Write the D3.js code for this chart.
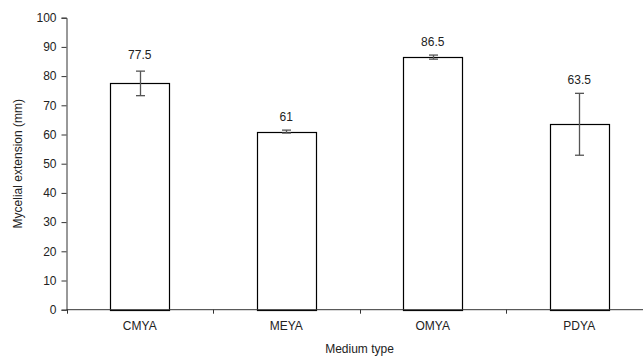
<!DOCTYPE html>
<html>
<head>
<meta charset="utf-8">
<script src="https://cdn.jsdelivr.net/npm/d3@7"></script>
<style>
  body { margin: 0; background: #fff; }
  text { font-family: "Liberation Sans", Arial, sans-serif; fill: #222; }
</style>
</head>
<body>
<div id="chart"></div>
<script>
    // data
    var categories = ["CMYA", "MEYA", "OMYA", "PDYA"];
    var means = [77.5, 61, 86.5, 63.5];
    var errors = [4.2, 0.5, 0.7, 10.6];
    var labels = ["77.5", "61", "86.5", "63.5"];
    var yTicks = [0, 10, 20, 30, 40, 50, 60, 70, 80, 90, 100];

    var width = 643, height = 358;
    var mLeft = 66.5, mTop = 17.7, mBottom = 309.7;
    var step = 146.5;

    var svg = d3.select("#chart").append("svg")
        .attr("width", width)
        .attr("height", height);

    var x = d3.scaleBand()
        .domain(categories)
        .range([mLeft, mLeft + step * categories.length])
        .paddingInner(0.6)
        .paddingOuter(0.3);

    var y = d3.scaleLinear()
        .domain([0, 100])
        .range([mBottom, mTop]);

    // 柱子
    svg.append("g").selectAll("rect")
        .data(categories)
        .enter().append("rect")
        .attr("x", function (d) { return Math.round(x(d)) + 0.5; })
        .attr("y", function (d, i) { return Math.round(y(means[i])) + 0.5; })
        .attr("width", Math.round(x.bandwidth()))
        .attr("height", function (d, i) { return Math.round(y(0)) - Math.round(y(means[i])); })
        .attr("fill", "#fff")
        .attr("stroke", "#000")
        .attr("stroke-width", 1.2);

    // 误差线
    var eb = svg.append("g").attr("stroke", "#555").attr("stroke-width", 1.3);
    categories.forEach(function (d, i) {
        var cx = Math.round(x(d) + x.bandwidth() / 2) + 0.5;
        var y1 = y(means[i] + errors[i]), y2 = y(means[i] - errors[i]);
        eb.append("line").attr("x1", cx).attr("x2", cx).attr("y1", y1).attr("y2", y2);
        eb.append("line").attr("x1", cx - 4.5).attr("x2", cx + 4.5).attr("y1", y1).attr("y2", y1);
        eb.append("line").attr("x1", cx - 4.5).attr("x2", cx + 4.5).attr("y1", y2).attr("y2", y2);
    });

    // 数值标签
    svg.append("g").selectAll("text")
        .data(categories)
        .enter().append("text")
        .attr("x", function (d) { return x(d) + x.bandwidth() / 2; })
        .attr("y", function (d, i) { return y(means[i] + errors[i]) - (i == 0 ? 12 : 9); })
        .attr("text-anchor", "middle")
        .attr("font-size", "12px")
        .text(function (d, i) { return labels[i]; });

    // y轴
    var yAxis = svg.append("g")
        .attr("transform", "translate(" + mLeft + ",0)")
        .call(d3.axisLeft(y).tickValues(yTicks).tickSize(5).tickPadding(5));
    yAxis.selectAll("text").attr("font-size", "12px").attr("font-family", "Liberation Sans, Arial, sans-serif").attr("fill", "#222");
    yAxis.selectAll("line, path").attr("stroke", "#333");

    // x轴
    var xg = svg.append("g").attr("stroke", "#333");
    xg.append("line")
        .attr("x1", mLeft).attr("x2", mLeft + step * categories.length)
        .attr("y1", mBottom).attr("y2", mBottom);
    xg.selectAll(".tk")
        .data(d3.range(categories.length + 1))
        .enter().append("line")
        .attr("x1", function (d) { return Math.round(mLeft + d * step) + 0.5; })
        .attr("x2", function (d) { return Math.round(mLeft + d * step) + 0.5; })
        .attr("y1", mBottom).attr("y2", mBottom + 4);

    svg.append("g").selectAll("text")
        .data(categories)
        .enter().append("text")
        .attr("x", function (d) { return x(d) + x.bandwidth() / 2; })
        .attr("y", mBottom + 20)
        .attr("text-anchor", "middle")
        .attr("font-size", "12px")
        .text(function (d) { return d; });

    // 轴标题
    svg.append("text")
        .attr("x", x("MEYA") + (x("OMYA") - x("MEYA")) / 2 + x.bandwidth() / 2)
        .attr("y", 353)
        .attr("text-anchor", "middle")
        .attr("font-size", "12px")
        .text("Medium type");

    svg.append("text")
        .attr("transform", "translate(22," + ((mTop + mBottom) / 2) + ") rotate(-90)")
        .attr("text-anchor", "middle")
        .attr("font-size", "12px")
        .text("Mycelial extension (mm)");
</script>
</body>
</html>
